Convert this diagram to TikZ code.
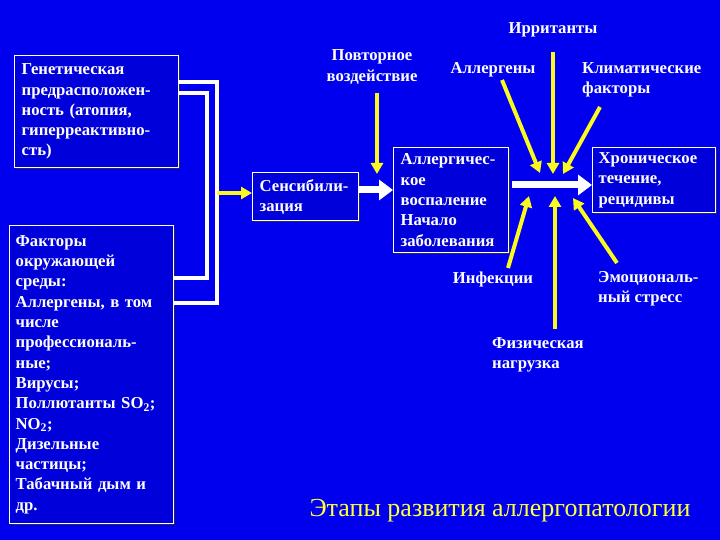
\documentclass[tikz,border=0pt]{standalone}
\usepackage{fontspec}
\setmainfont{Liberation Serif}
\usetikzlibrary{arrows.meta,shadows}
\definecolor{bg}{RGB}{0,0,238}
\definecolor{boxfill}{RGB}{0,0,218}
\definecolor{yel}{RGB}{250,250,30}
\definecolor{titleyel}{RGB}{255,255,60}
\begin{document}
\begin{tikzpicture}[x=1pt,y=-1pt,
  txt/.style={text=white,font=\fontsize{16.7}{20.3}\selectfont\bfseries,inner sep=0pt},
  card/.style={txt,draw=white,line width=1.3pt,fill=boxfill,align=left,anchor=north west,
    drop shadow={shadow xshift=1.5pt,shadow yshift=-1.5pt,fill=black!80,opacity=0.8}},
  yarrow/.style={draw=yel,line width=4pt,-{Triangle[length=11pt,width=12pt]}},
  warrow/.style={draw=white,line width=7pt,-{Triangle[length=14pt,width=20pt]}},
  wline/.style={draw=white,line width=4pt}]
\fill[bg] (0,0) rectangle (720,540);
\useasboundingbox (0,0) rectangle (720,540);
% boxes
\node[card,minimum width=164pt,minimum height=112pt,text width=150pt] (gen) at (14,55)
 {Генетическая\\предрасположен-\\ность (атопия,\\гиперреактивно-\\сть)};
\node[card,minimum width=164pt,minimum height=298pt,text width=152pt] (env) at (9,225)
 {Факторы\\окружающей\\среды:\\Аллергены, в том\\числе\\профессиональ-\\ные;\\Вирусы;\\Поллютанты SO\textsubscript{2};\\NO\textsubscript{2};\\Дизельные\\частицы;\\Табачный дым и\\др.};
\node[card,minimum width=106pt,minimum height=48pt,text width=92pt] (sens) at (252,172)
 {Сенсибили-\\зация};
\node[card,minimum width=115pt,minimum height=105pt,text width=101pt] (infl) at (393,147)
 {Аллергичес-\\кое\\воспаление\\Начало\\заболевания};
\node[card,minimum width=123pt,minimum height=65pt,text width=111pt] (chron) at (592,147)
 {Хроническое\\течение,\\рецидивы};
% labels
\node[txt] (irr) at (553,30) {Ирританты};
\node[txt,align=center] (rep) at (372,67) {Повторное\\воздействие};
\node[txt] (alg) at (493,70) {Аллергены};
\node[txt,align=left,anchor=west] (clim) at (582,80) {Климатические\\факторы};
\node[txt] (inf) at (493,279) {Инфекции};
\node[txt,align=left,anchor=west] (emo) at (598,289) {Эмоциональ-\\ный стресс};
\node[txt,align=left,anchor=west] (phys) at (492,355) {Физическая\\нагрузка};
\node[text=titleyel,font=\fontsize{26}{30}\selectfont,inner sep=0pt] (title) at (500,511) {Этапы развития аллергопатологии};
% white brackets
\coordinate (ga) at (178,82); \coordinate (gb) at (178,93);
\coordinate (ea) at (173,303); \coordinate (eb) at (173,278);
\draw[wline] (ga) -- (217,82) -- (217,303) -- (ea);
\draw[wline] (gb) -- (207,93) -- (207,278) -- (eb);
\coordinate (br) at (217,193);
\draw[yarrow] (br) -- (sens.west |- br);
% sens -> infl
\coordinate (s1) at (358,190);
\draw[warrow] (s1) -- (infl.west |- s1);
% repeated exposure
\coordinate (rt) at (377,93); \coordinate (rh) at (377,174);
\draw[yarrow] (rt) -- (rh);
% central arrow
\coordinate (c1) at (512,185);
\draw[warrow] (c1) -- (chron.west |- c1);
% converging arrows
\coordinate (irrT) at (553,52); \coordinate (irrH) at (553,174);
\draw[yarrow] (irrT) -- (irrH);
\coordinate (algT) at (502,80); \coordinate (algH) at (540,173);
\draw[yarrow] (algT) -- (algH);
\coordinate (climT) at (600,107); \coordinate (climH) at (563,174);
\draw[yarrow] (climT) -- (climH);
\coordinate (infT) at (508,268); \coordinate (infH) at (529,196);
\draw[yarrow] (infT) -- (infH);
\coordinate (phT) at (555,329); \coordinate (phH) at (555,196);
\draw[yarrow] (phT) -- (phH);
\coordinate (emT) at (617,263); \coordinate (emH) at (573,198);
\draw[yarrow] (emT) -- (emH);
\end{tikzpicture}
\end{document}
